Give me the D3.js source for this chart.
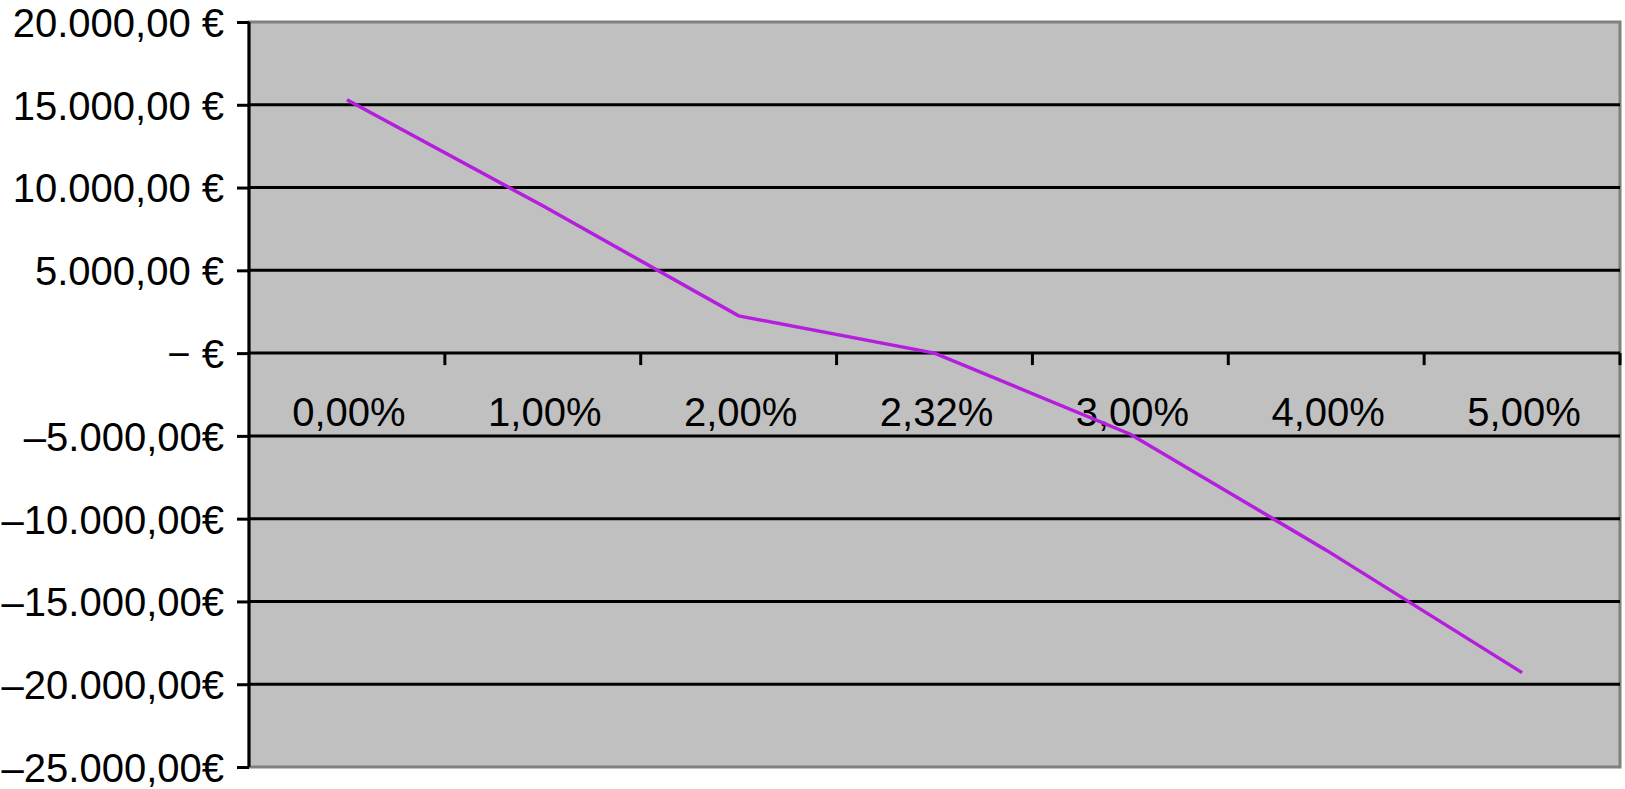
<!DOCTYPE html>
<html>
<head>
<meta charset="utf-8">
<script src="https://cdn.jsdelivr.net/npm/d3@7"></script>
<style>
  body { margin: 0; background: #fff; }
  svg text { font-family: "Liberation Sans", Arial, Helvetica, sans-serif; fill: #000; }
</style>
</head>
<body>
<div id="chart"></div>
<script>
// interest rates on the x axis
const rates = ['0,00%', '1,00%', '2,00%', '2,32%', '3,00%', '4,00%', '5,00%'];
const values = [15300, 8900, 2250, 0, -4900, -11900, -19300];
const yTicks = [20000, 15000, 10000, 5000, 0, -5000, -10000, -15000, -20000, -25000];

const width = 1625;
const height = 789;
const margin = { top: 22, right: 5, bottom: 22, left: 249 };

const svg = d3.select('#chart').append('svg')
    .attr('width', width)
    .attr('height', height);

const x = d3.scaleBand()
    .domain(rates)
    .range([margin.left, width - margin.right])
    .paddingInner(0)
    .paddingOuter(0);

const y = d3.scaleLinear()
    .domain([-25000, 20000])
    .range([height - margin.bottom, margin.top]);

// euro formatting, german style
const locale = d3.formatLocale({ decimal: ',', thousands: '.', grouping: [3], currency: ['', '€'] });
const num = locale.format(',.2f');
function euro(v) {
    if (v === 0) return '\u2212 €';
    if (v < 0) return '\u2013' + num(-v) + '€';
    return num(v) + ' €';
}

// plot background
svg.append('rect')
    .attr('x', margin.left)
    .attr('y', margin.top)
    .attr('width', width - margin.right - margin.left)
    .attr('height', y(-25000) - margin.top)
    .attr('fill', '#c0c0c0')
    .attr('stroke', '#808080')
    .attr('stroke-width', 3);

// horizontal grid lines
svg.append('g')
    .selectAll('line')
    .data(yTicks.filter(d => d !== 20000 && d !== -25000 && d !== 0))
    .join('line')
    .attr('x1', margin.left)
    .attr('x2', width - margin.right)
    .attr('y1', d => y(d))
    .attr('y2', d => y(d))
    .attr('stroke', '#000')
    .attr('stroke-width', 3);

// y axis
const yAxis = svg.append('g')
    .attr('transform', `translate(${margin.left},0)`)
    .call(d3.axisLeft(y).tickValues(yTicks).tickSize(12).tickPadding(13).tickFormat(euro));
yAxis.select('.domain')
    .attr('stroke', '#000')
    .attr('stroke-width', 3)
    .attr('d', `M0,${y(20000)}V${y(-25000)}`);
yAxis.selectAll('.tick line').attr('stroke', '#000').attr('stroke-width', 3);
yAxis.selectAll('.tick text')
    .attr('font-size', 40)
    .attr('dy', '0.36em')
    .style('font-family', '"Liberation Sans", Arial, Helvetica, sans-serif');

// x axis at zero, ticks between categories
const zeroY = y(0);
svg.append('line')
    .attr('x1', margin.left)
    .attr('x2', width - margin.right)
    .attr('y1', zeroY)
    .attr('y2', zeroY)
    .attr('stroke', '#000')
    .attr('stroke-width', 3);

svg.append('g')
    .selectAll('line')
    .data(rates)
    .join('line')
    .attr('x1', d => x(d) + x.bandwidth())
    .attr('x2', d => x(d) + x.bandwidth())
    .attr('y1', zeroY)
    .attr('y2', zeroY + 12)
    .attr('stroke', '#000')
    .attr('stroke-width', 3);

svg.append('g')
    .selectAll('text')
    .data(rates)
    .join('text')
    .attr('x', d => x(d) + x.bandwidth() / 2 + 2)
    .attr('y', zeroY + 73)
    .attr('text-anchor', 'middle')
    .attr('font-size', 40)
    .text(d => d);

// the line itself
const line = d3.line()
    .x((d, i) => x(rates[i]) + x.bandwidth() / 2)
    .y(d => y(d));

svg.append('path')
    .datum(values)
    .attr('d', line)
    .attr('fill', 'none')
    .attr('stroke', '#b41edc')
    .attr('stroke-width', 3.5);
</script>
</body>
</html>
